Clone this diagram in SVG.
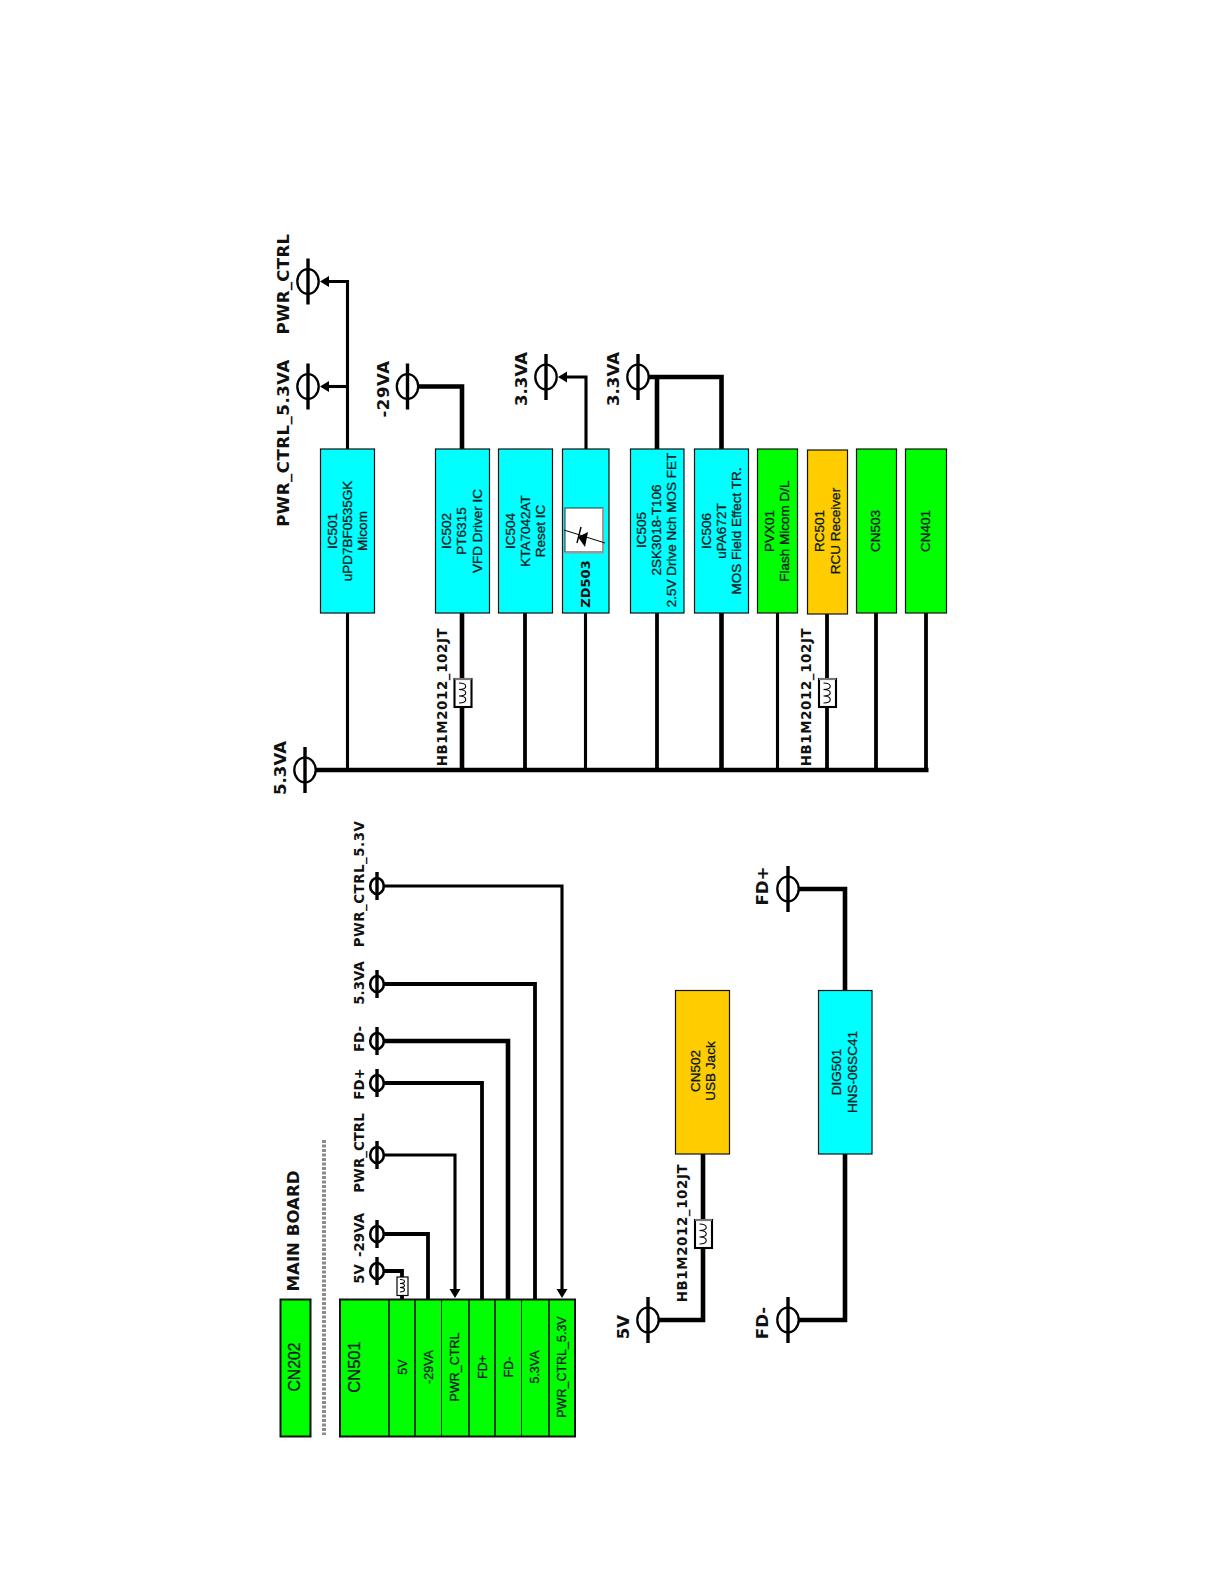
<svg xmlns="http://www.w3.org/2000/svg" width="1219" height="1587" viewBox="0 0 1219 1587">
<style>
.bg{fill:#fff}
.c{fill:#00ffff;stroke:#111;stroke-width:1.2}
.g{fill:#00ff00;stroke:#111;stroke-width:1.2}
.o{fill:#ffcc00;stroke:#111;stroke-width:1.2}
.t{font-family:"Liberation Sans",Arial,sans-serif;font-size:13.5px;text-anchor:middle;fill:#0a1a20;stroke:#0a1a20;stroke-width:.3}
.l{font-family:"DejaVu Sans",Verdana,sans-serif;font-weight:bold;text-anchor:middle;fill:#111}
.l1{font-size:16.6px}
.l2{font-size:13.4px}
.sp{letter-spacing:.5px}
.w{fill:none;stroke:#000;stroke-linejoin:miter}
.w3{stroke-width:3.1}.w35{stroke-width:3.8}.w4{stroke-width:4.6}
.sym{fill:#fff;stroke:#000;stroke-width:2.3}
.syms{fill:#fff;stroke:#000;stroke-width:2.6}
.bar{stroke:#000;stroke-width:3.4}
.ind{fill:#fff;stroke:#000;stroke-width:2.1}
.coil{fill:none;stroke:#000;stroke-width:1.1}
</style>
<defs>
<marker id="arrow" markerUnits="userSpaceOnUse" markerWidth="9" markerHeight="12" refX="0" refY="6" orient="auto"><path d="M0,0.5 L9,6 L0,11.5 Z" fill="#000"/></marker>
<g id="term"><ellipse cx="0" cy="0" rx="10.7" ry="12.3" class="sym"/><line x1="0" y1="-23" x2="0" y2="23" class="bar"/></g>
<g id="terms"><ellipse cx="0" cy="0" rx="6.8" ry="8" class="syms"/><line x1="0" y1="-14" x2="0" y2="14" class="bar"/></g>
<g id="indV"><rect x="-8.5" y="-14" width="17" height="28" class="ind"/><line x1="-8.5" y1="-14" x2="8.5" y2="-14" stroke="#777" stroke-width="2"/><path d="M-4,-10 C5,-10 5,-3.5 -4,-3.5 C5,-3.5 5,3 -4,3 C5,3 5,10 -4,10" class="coil"/></g>
</defs>
<rect class="bg" width="1219" height="1587"/>

<g id="connectors">
<path class="w w3" d="M347.5,449 V281.5 H329" marker-end="url(#arrow)"/>
<path class="w w3" d="M347.5,386.5 H329" marker-end="url(#arrow)"/>
<path class="w w4" d="M418,386.5 H462 V449"/>
<path class="w w3" d="M586,449 V377 H567" marker-end="url(#arrow)"/>
<path class="w w4" d="M648,377 H721.5 V449"/>
<path class="w w4" d="M657,377 V449"/>
<path class="w w4" d="M315,770 H928.5"/>
<path class="w w3" d="M347.5,613 V770"/>
<path class="w w4" d="M462,613 V770"/>
<path class="w w35" d="M525,613 V770"/>
<path class="w w3" d="M585.5,613 V770"/>
<path class="w w35" d="M657,613 V770"/>
<path class="w w4" d="M721.5,613 V770"/>
<path class="w w3" d="M777.5,613 V770"/>
<path class="w w35" d="M827,613 V770"/>
<path class="w w35" d="M876,613 V770"/>
<path class="w w35" d="M926,613 V770"/>
<path class="w w35" d="M384,1271 H402 V1299"/>
<path class="w w35" d="M384,1234 H428 V1299"/>
<path class="w w3" d="M384,1155 H455 V1289" marker-end="url(#arrow)"/>
<path class="w w35" d="M384,1083 H482 V1299"/>
<path class="w w4" d="M384,1041 H508 V1299"/>
<path class="w w35" d="M384,984 H535 V1299"/>
<path class="w w3" d="M384,886 H562 V1289" marker-end="url(#arrow)"/>
<path class="w w4" d="M658,1320 H703 V1154"/>
<path class="w w4" d="M798,889 H845 V990"/>
<path class="w w4" d="M798,1320 H845 V1154"/>
</g>

<g id="t-pwr-ctrl"><use href="#term" x="308" y="281.5"/><text class="l l1" style="letter-spacing:.3px" transform="translate(289,284) rotate(-90)">PWR_CTRL</text></g>
<g id="t-pwr-ctrl-53va"><use href="#term" x="308" y="386.5"/><text class="l l1 sp" transform="translate(289,443) rotate(-90)">PWR_CTRL_5.3VA</text></g>
<g id="t-m29va"><use href="#term" x="407.5" y="386.5"/><text class="l l1" style="letter-spacing:.5px" transform="translate(389,389) rotate(-90)">-29VA</text></g>
<g id="t-33va-1"><use href="#term" x="546" y="377"/><text class="l l1" transform="translate(527,379) rotate(-90)">3.3VA</text></g>
<g id="t-33va-2"><use href="#term" x="638" y="377"/><text class="l l1" transform="translate(619,379) rotate(-90)">3.3VA</text></g>
<g id="t-53va"><use href="#term" x="305" y="770"/><text class="l l1" transform="translate(286,768) rotate(-90)">5.3VA</text></g>

<g id="IC501"><rect class="c" x="320.5" y="449" width="54" height="164"/>
<text class="t" transform="translate(336.5,531) rotate(-90)">IC501</text><text class="t" transform="translate(351.5,531) rotate(-90)">uPD7BF0535GK</text><text class="t" transform="translate(366.5,531) rotate(-90)">Micom</text></g>
<g id="IC502"><rect class="c" x="435.5" y="449" width="54" height="164"/>
<text class="t" transform="translate(451,531) rotate(-90)">IC502</text><text class="t" transform="translate(466,531) rotate(-90)">PT6315</text><text class="t" transform="translate(481.5,531) rotate(-90)">VFD Driver IC</text></g>
<g id="IC504"><rect class="c" x="498.5" y="449" width="54" height="164"/>
<text class="t" transform="translate(514.5,531) rotate(-90)">IC504</text><text class="t" transform="translate(529.5,531) rotate(-90)">KTA7042AT</text><text class="t" transform="translate(545,531) rotate(-90)">Reset IC</text></g>
<g id="ZD503"><rect class="c" x="562.5" y="449" width="46.5" height="164"/>
<rect x="565" y="508" width="38" height="44" fill="#fff" stroke="#333" stroke-width="1"/>
<path d="M603,508 V552.5 H565" fill="none" stroke="#999" stroke-width="2"/>
<line x1="564" y1="530" x2="605" y2="543" stroke="#000" stroke-width="1"/>
<path d="M588,532 L578,537 L585,547 Z" fill="#000"/>
<path d="M581,527 L577,543" stroke="#000" stroke-width="1.4" fill="none"/>
<text class="l" font-size="13" transform="translate(590,584) rotate(-90)">ZD503</text></g>
<g id="IC505"><rect class="c" x="630.5" y="449" width="53.5" height="164"/>
<text class="t" transform="translate(645.5,530) rotate(-90)">IC505</text><text class="t" transform="translate(660.5,530) rotate(-90)">2SK3018-T106</text><text class="t" transform="translate(675.5,530) rotate(-90)">2.5V Drive Nch MOS FET</text></g>
<g id="IC506"><rect class="c" x="694.5" y="449" width="54" height="164"/>
<text class="t" transform="translate(710.5,531) rotate(-90)">IC506</text><text class="t" transform="translate(725.5,531) rotate(-90)">uPA672T</text><text class="t" transform="translate(740.5,531) rotate(-90)">MOS Field Effect TR.</text></g>
<g id="PVX01"><rect class="g" x="757.5" y="449" width="40" height="164"/>
<text class="t" transform="translate(773.5,531) rotate(-90)">PVX01</text><text class="t" transform="translate(788.5,531) rotate(-90)">Flash Micom D/L</text></g>
<g id="RC501"><rect class="o" x="807.5" y="450" width="40" height="164"/>
<text class="t" transform="translate(823.5,531) rotate(-90)">RC501</text><text class="t" transform="translate(839.5,531) rotate(-90)">RCU Receiver</text></g>
<g id="CN503"><rect class="g" x="856.5" y="449" width="40" height="164"/><text class="t" transform="translate(880,531) rotate(-90)">CN503</text></g>
<g id="CN401"><rect class="g" x="905.5" y="449" width="41" height="164"/><text class="t" transform="translate(930,531) rotate(-90)">CN401</text></g>

<g id="L501"><use href="#indV" x="463" y="693"/><text class="l l2" style="letter-spacing:.6px" transform="translate(447,697) rotate(-90)">HB1M2012_102JT</text></g>
<g id="L502"><use href="#indV" x="827.5" y="693"/><text class="l l2" style="letter-spacing:.6px" transform="translate(811,697) rotate(-90)">HB1M2012_102JT</text></g>

<g id="CN202"><rect x="280.5" y="1299.5" width="30" height="137" fill="#00ff00" stroke="#111" stroke-width="2"/><text class="t" style="font-size:15.8px" transform="translate(300,1367) rotate(-90)">CN202</text></g>
<text class="l l1" transform="translate(299,1231) rotate(-90)">MAIN BOARD</text>
<line x1="324" y1="1140" x2="324" y2="1435" stroke="#8c8c8c" stroke-width="4" stroke-dasharray="3 1.5"/>

<g id="CN501"><rect x="340" y="1299.5" width="235" height="137" fill="#00ff00" stroke="#111" stroke-width="2"/>
<path d="M389,1299 V1436 M415,1299 V1436 M469,1299 V1436 M495,1299 V1436 M549,1299 V1436" stroke="#111" stroke-width="1.6" fill="none"/>
<path d="M441.5,1299 V1436 M521.5,1299 V1436" stroke="#222" stroke-width="1" fill="none"/>
<text class="t" style="font-size:16.5px" transform="translate(360,1367) rotate(-90)">CN501</text>
<text class="t" style="font-size:12.5px" transform="translate(406.5,1367) rotate(-90)">5V</text>
<text class="t" style="font-size:12.5px" transform="translate(432.5,1367) rotate(-90)">-29VA</text>
<text class="t" style="font-size:12.5px" transform="translate(458.5,1367) rotate(-90)">PWR_CTRL</text>
<text class="t" style="font-size:12.5px" transform="translate(486.5,1367) rotate(-90)">FD+</text>
<text class="t" style="font-size:12.5px" transform="translate(512.5,1367) rotate(-90)">FD-</text>
<text class="t" style="font-size:12.5px" transform="translate(538.5,1367) rotate(-90)">5.3VA</text>
<text class="t" style="font-size:12.5px" transform="translate(565.5,1367) rotate(-90)">PWR_CTRL_5.3V</text></g>

<g id="L503"><rect x="397" y="1277" width="11" height="18.5" class="ind" style="stroke-width:1.2"/><path d="M400,1279.5 C406,1279.5 406,1283.5 400,1283.5 C406,1283.5 406,1287.5 400,1287.5 C406,1287.5 406,1292 400,1292" class="coil"/></g>

<g id="t5v"><use href="#terms" x="377" y="1271"/><text class="l l2" transform="translate(364,1274) rotate(-90)">5V</text></g>
<g id="tm29"><use href="#terms" x="377" y="1234"/><text class="l l2" transform="translate(364,1235) rotate(-90)">-29VA</text></g>
<g id="tpc"><use href="#terms" x="377" y="1155"/><text class="l l2" transform="translate(364,1153) rotate(-90)">PWR_CTRL</text></g>
<g id="tfdp"><use href="#terms" x="377" y="1083"/><text class="l l2" transform="translate(364,1084) rotate(-90)">FD+</text></g>
<g id="tfdm"><use href="#terms" x="377" y="1041"/><text class="l l2" transform="translate(364,1039) rotate(-90)">FD-</text></g>
<g id="t53"><use href="#terms" x="377" y="984"/><text class="l l2" transform="translate(364,983) rotate(-90)">5.3VA</text></g>
<g id="tpc53"><use href="#terms" x="377" y="886"/><text class="l l2 sp" transform="translate(364,884) rotate(-90)">PWR_CTRL_5.3V</text></g>

<g id="CN502"><rect class="o" x="675.5" y="990.5" width="54" height="163.5"/>
<text class="t" transform="translate(700,1071) rotate(-90)">CN502</text><text class="t" transform="translate(714.5,1071) rotate(-90)">USB Jack</text></g>
<g id="DIG501"><rect class="c" x="818.5" y="990.5" width="53.5" height="163.5"/>
<text class="t" transform="translate(840.5,1072) rotate(-90)">DIG501</text><text class="t" transform="translate(856.5,1072) rotate(-90)">HNS-06SC41</text></g>
<g id="L504"><use href="#indV" x="703.5" y="1234"/><text class="l l2" style="letter-spacing:.6px" transform="translate(687,1233) rotate(-90)">HB1M2012_102JT</text></g>
<g id="t5v2"><use href="#term" x="648" y="1320"/><text class="l l1" transform="translate(629,1327) rotate(-90)">5V</text></g>
<g id="tfdp2"><use href="#term" x="788" y="889"/><text class="l l1" transform="translate(768,886) rotate(-90)">FD+</text></g>
<g id="tfdm2"><use href="#term" x="788" y="1320"/><text class="l l1" transform="translate(768,1323) rotate(-90)">FD-</text></g>
</svg>
